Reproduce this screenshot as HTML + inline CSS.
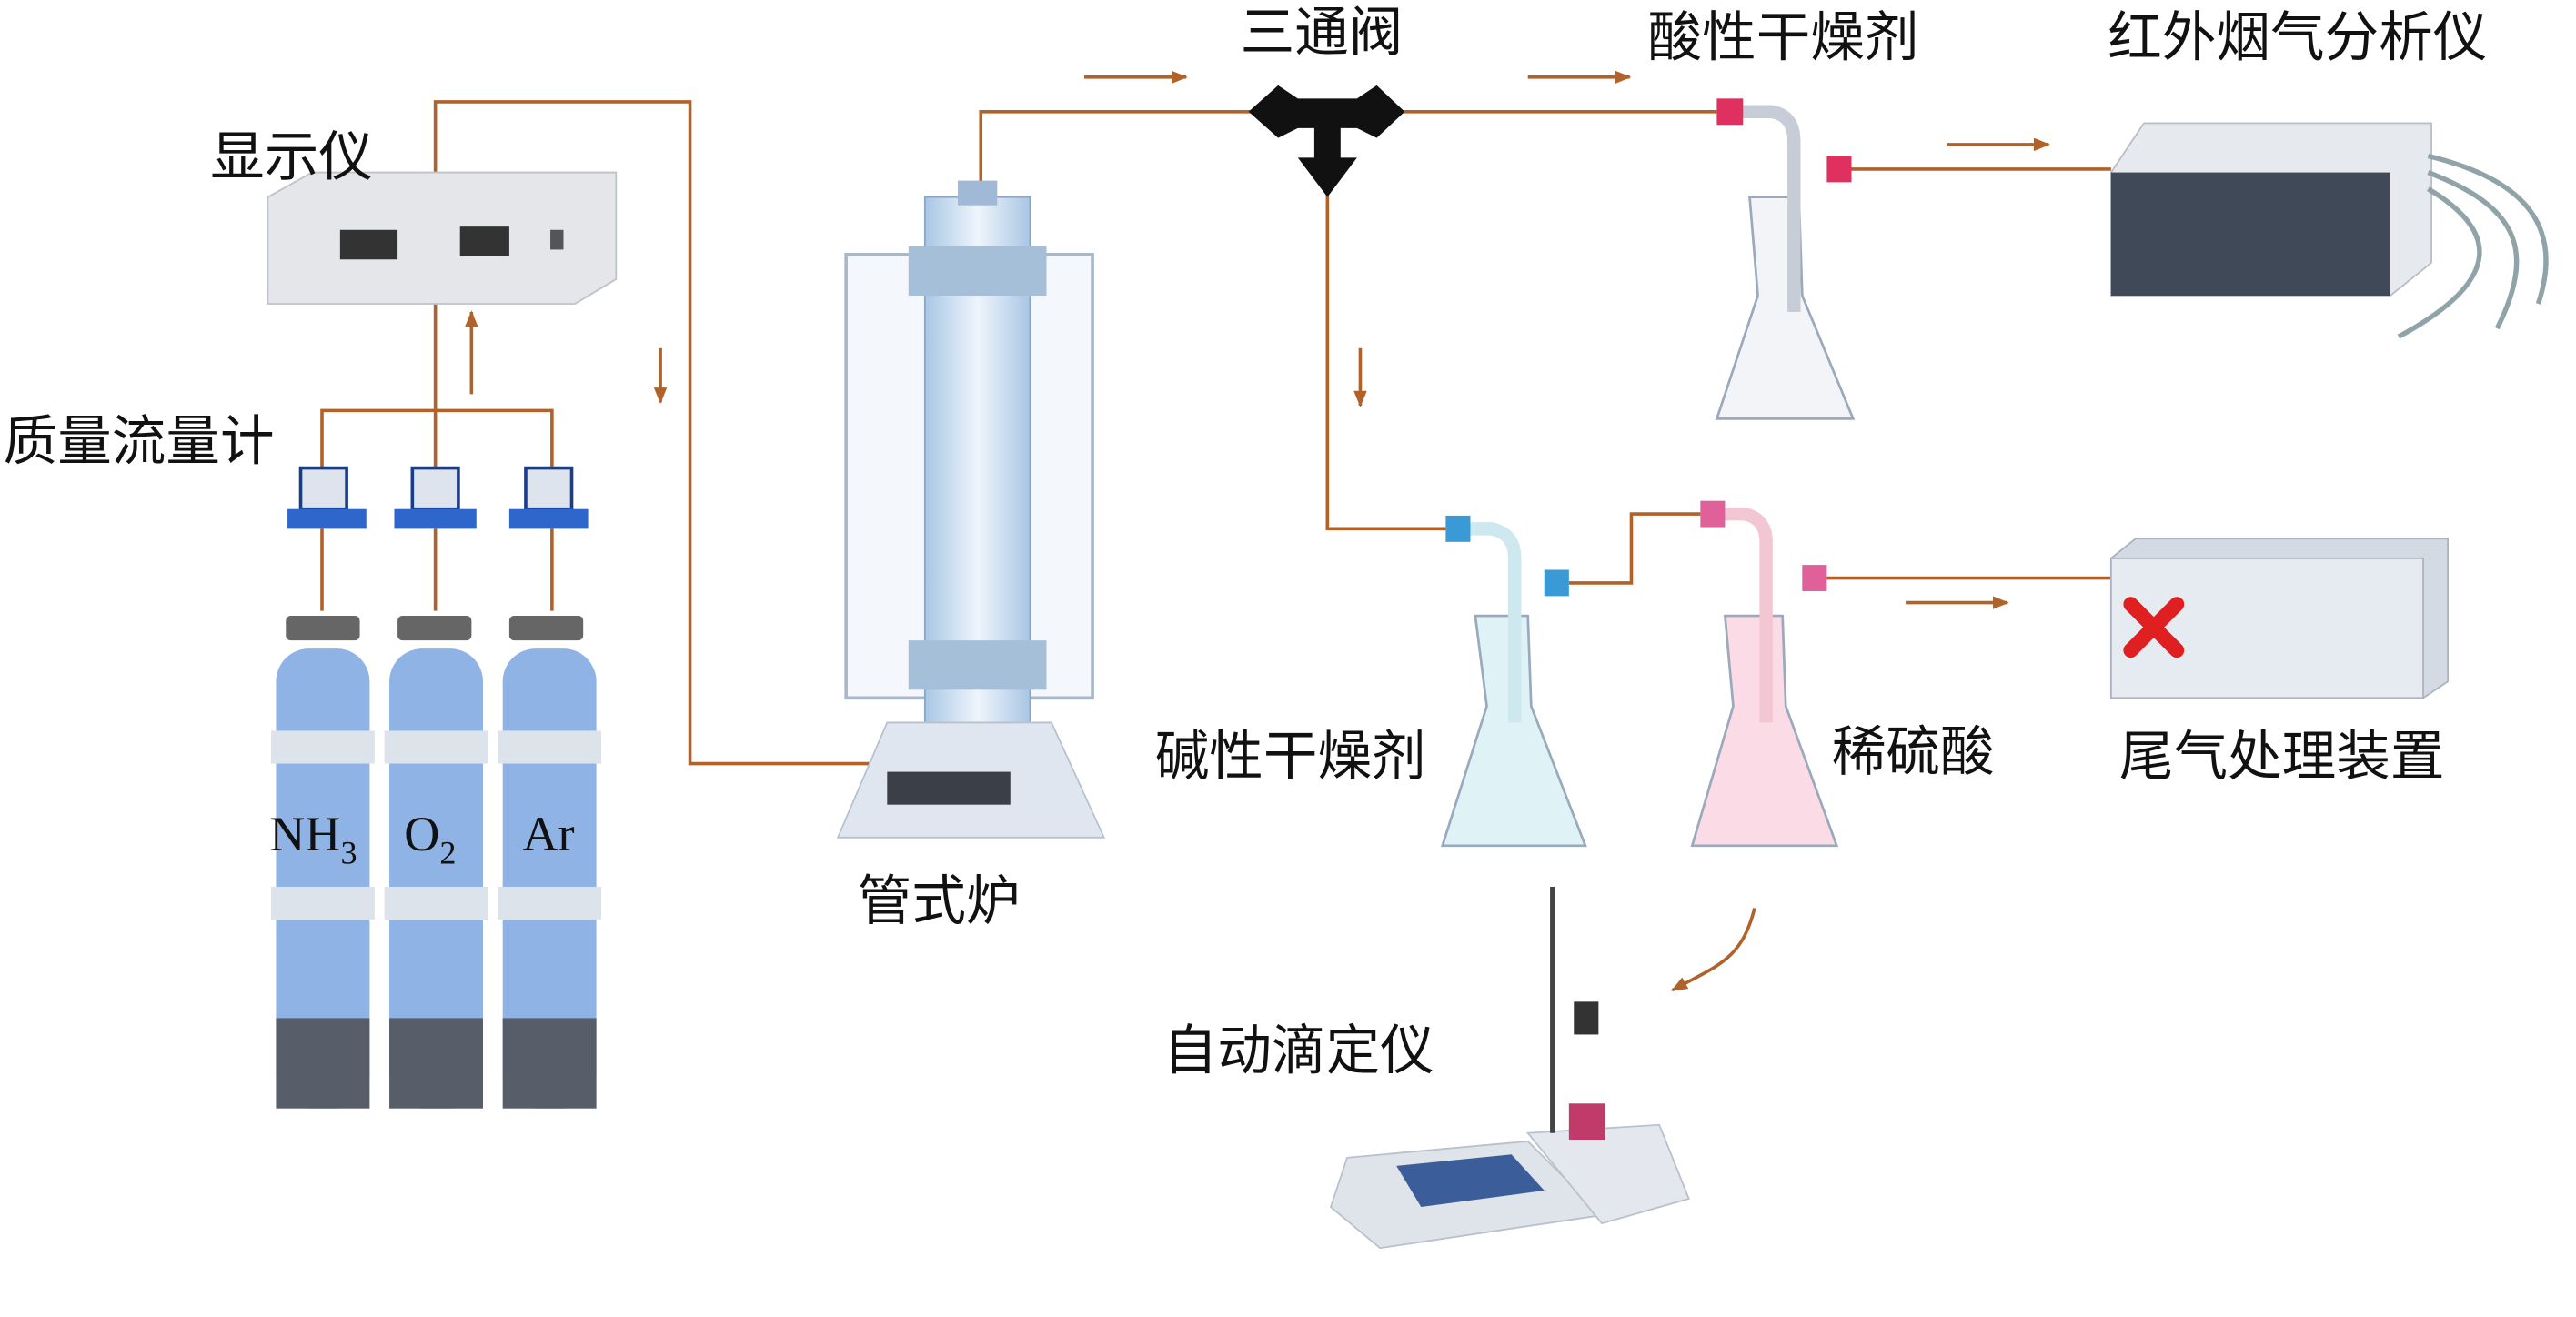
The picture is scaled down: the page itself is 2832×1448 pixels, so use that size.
<!DOCTYPE html>
<html><head><meta charset="utf-8"><style>
html,body{margin:0;padding:0;background:#fff;}
svg{display:block;}
text{font-family:"Liberation Sans","Noto Sans CJK SC",sans-serif;fill:#111;}
</style></head><body>
<svg width="2832" height="1448" viewBox="0 0 1568 802" preserveAspectRatio="none" xmlns="http://www.w3.org/2000/svg">
<defs>
<marker id="ah" markerWidth="10" markerHeight="8" refX="9" refY="4" orient="auto" markerUnits="userSpaceOnUse"><path d="M0,0 L10,4 L0,8 Z" fill="#b0622a"/></marker>
<linearGradient id="tube" x1="0" x2="1"><stop offset="0" stop-color="#a9c6e4"/><stop offset="0.5" stop-color="#eef5fc"/><stop offset="1" stop-color="#a9c6e4"/></linearGradient>
</defs>
<g fill="none" stroke="#b0622a" stroke-width="2">
<polyline points="265,110 265,62 420,62 420,465 530,465"/>
<polyline points="597,118 597,68 765,68"/>
<polyline points="850,68 1045,68"/>
<polyline points="808,115 808,322 880,322"/>
<polyline points="955,355 993,355 993,313 1035,313"/>
<polyline points="1112,352 1285,352"/>
<polyline points="1127,103 1285,103"/>
<polyline points="196,285 196,250 336,250 336,285"/>
<line x1="265" y1="285" x2="265" y2="185"/>
<line x1="196" y1="322" x2="196" y2="372"/><line x1="265" y1="322" x2="265" y2="372"/><line x1="336" y1="322" x2="336" y2="372"/>
</g>
<g stroke="#b0622a" stroke-width="2" marker-end="url(#ah)">
<line x1="660" y1="47" x2="722" y2="47"/>
<line x1="930" y1="47" x2="992" y2="47"/>
<line x1="1185" y1="88" x2="1247" y2="88"/>
<line x1="1160" y1="367" x2="1222" y2="367"/>
<line x1="828" y1="212" x2="828" y2="247"/>
<line x1="402" y1="212" x2="402" y2="245"/>
<line x1="287" y1="240" x2="287" y2="190"/>
<path d="M1068,553 C1060,585 1045,588 1018,603" fill="none"/>
</g>
<!-- display -->
<polygon points="163,120 190,105 375,105 375,170 350,185 163,185" fill="#e4e6ea" stroke="#bfc3c9"/>
<rect x="207" y="140" width="35" height="18" fill="#333"/><rect x="280" y="138" width="30" height="18" fill="#333"/><rect x="335" y="140" width="8" height="12" fill="#555"/>
<!-- meters -->
<g fill="#dde4ee" stroke="#1a3d8a" stroke-width="2">
<rect x="183" y="285" width="28" height="25"/><rect x="251" y="285" width="28" height="25"/><rect x="320" y="285" width="28" height="25"/></g>
<g fill="#2f66cc"><rect x="175" y="310" width="48" height="12"/><rect x="240" y="310" width="50" height="12"/><rect x="310" y="310" width="48" height="12"/></g>
<!-- cylinders -->
<g>
<rect x="174" y="375" width="45" height="15" fill="#666" rx="3"/><rect x="242" y="375" width="45" height="15" fill="#666" rx="3"/><rect x="310" y="375" width="45" height="15" fill="#666" rx="3"/>
<rect x="168" y="395" width="57" height="280" rx="20" fill="#8fb3e4"/><rect x="237" y="395" width="57" height="280" rx="20" fill="#8fb3e4"/><rect x="306" y="395" width="57" height="280" rx="20" fill="#8fb3e4"/>
<g fill="#585e69"><rect x="168" y="620" width="57" height="55"/><rect x="237" y="620" width="57" height="55"/><rect x="306" y="620" width="57" height="55"/></g>
<g fill="#dde3ea"><rect x="165" y="445" width="63" height="20"/><rect x="234" y="445" width="63" height="20"/><rect x="303" y="445" width="63" height="20"/>
<rect x="165" y="540" width="63" height="20"/><rect x="234" y="540" width="63" height="20"/><rect x="303" y="540" width="63" height="20"/></g>
</g>
<g font-size="30">
<text x="164" y="518" style="font-family:'Liberation Serif',serif">NH<tspan font-size="20" dy="8">3</tspan></text>
<text x="246" y="518" style="font-family:'Liberation Serif',serif">O<tspan font-size="20" dy="8">2</tspan></text>
<text x="318" y="518" style="font-family:'Liberation Serif',serif">Ar</text>
</g>
<!-- furnace -->
<rect x="515" y="155" width="150" height="270" fill="#f4f7fb" stroke="#a9b7c8" stroke-width="2"/>
<rect x="563" y="120" width="64" height="320" fill="url(#tube)" stroke="#8aa6c4"/>
<rect x="583" y="110" width="24" height="15" fill="#9fb9d6"/>
<rect x="553" y="150" width="84" height="30" fill="#a6bfd9"/><rect x="553" y="390" width="84" height="30" fill="#a6bfd9"/>
<polygon points="540,440 640,440 672,510 510,510" fill="#dfe6ef" stroke="#b7c2cf"/>
<rect x="540" y="470" width="75" height="20" fill="#3a3f48"/>
<!-- valve -->
<polygon points="760,68 778,52 790,60 826,60 838,52 855,68 838,84 826,78 816,78 816,96 826,96 808,120 790,96 800,96 800,78 790,78 778,84" fill="#111"/>
<!-- flasks -->
<g stroke="#9aa9bb" stroke-width="1.5">
<path d="M1065,120 L1095,120 L1097,180 L1128,255 L1045,255 L1070,180 Z" fill="#f2f4f7"/>
<path d="M1058,68 L1078,68 Q1092,70 1092,86 L1092,190" fill="none" stroke="#c7cdd6" stroke-width="8"/>
<path d="M898,375 L930,375 L932,430 L965,515 L878,515 L905,430 Z" fill="#dff2f6"/>
<path d="M895,322 L908,322 Q922,325 922,340 L922,440" fill="none" stroke="#cde8ef" stroke-width="8"/>
<path d="M1050,375 L1085,375 L1087,430 L1118,515 L1030,515 L1055,430 Z" fill="#fbdbe5"/>
<path d="M1050,313 L1062,313 Q1075,316 1075,330 L1075,440" fill="none" stroke="#f3c6d4" stroke-width="8"/>
</g>
<g>
<rect x="1045" y="60" width="16" height="16" fill="#e0305f"/><rect x="1112" y="95" width="15" height="16" fill="#e0305f"/>
<rect x="880" y="314" width="15" height="16" fill="#3a9ad8"/><rect x="940" y="347" width="15" height="16" fill="#3a9ad8"/>
<rect x="1035" y="305" width="15" height="16" fill="#e0609a"/><rect x="1097" y="344" width="15" height="16" fill="#e0609a"/>
</g>
<!-- analyzer -->
<polygon points="1285,105 1305,75 1480,75 1480,160 1455,180 1285,180" fill="#e6e9ee" stroke="#b8bec7"/>
<rect x="1285" y="105" width="170" height="75" fill="#404957"/>
<path d="M1478,95 C1540,110 1560,140 1545,185 M1478,105 C1530,125 1545,150 1520,200 M1478,115 C1520,140 1525,170 1460,205" fill="none" stroke="#8fa3a8" stroke-width="3"/>
<!-- tail -->
<polygon points="1285,340 1300,328 1490,328 1490,415 1475,425 1285,425" fill="#d3dae3" stroke="#aab3bf"/>
<rect x="1285" y="340" width="190" height="85" fill="#e6ebf1" stroke="#aab3bf"/>
<path d="M1297,368 L1325,396 M1325,368 L1297,396" stroke="#e02020" stroke-width="9" stroke-linecap="round"/>
<!-- titrator -->
<polygon points="820,705 930,695 975,740 840,760 810,735" fill="#dfe4ea" stroke="#b9c1cc"/>
<polygon points="850,710 920,703 940,725 865,735" fill="#3b5d9a"/>
<polygon points="930,690 1010,685 1028,730 975,745" fill="#e4e8ee" stroke="#b9c1cc"/>
<line x1="945" y1="540" x2="945" y2="690" stroke="#444" stroke-width="3"/>
<rect x="958" y="610" width="15" height="20" fill="#333"/>
<rect x="955" y="672" width="22" height="22" fill="#c03a6a"/>
<!-- labels -->
<g font-size="33">
<text x="128" y="107">显示仪</text>
<text x="2" y="280">质量流量计</text>
<text x="755" y="31">三通阀</text>
<text x="1003" y="34">酸性干燥剂</text>
<text x="1283" y="34">红外烟气分析仪</text>
<text x="522" y="560">管式炉</text>
<text x="703" y="472">碱性干燥剂</text>
<text x="1115" y="469">稀硫酸</text>
<text x="1290" y="472">尾气处理装置</text>
<text x="708" y="651">自动滴定仪</text>
</g>
</svg>
</body></html>
